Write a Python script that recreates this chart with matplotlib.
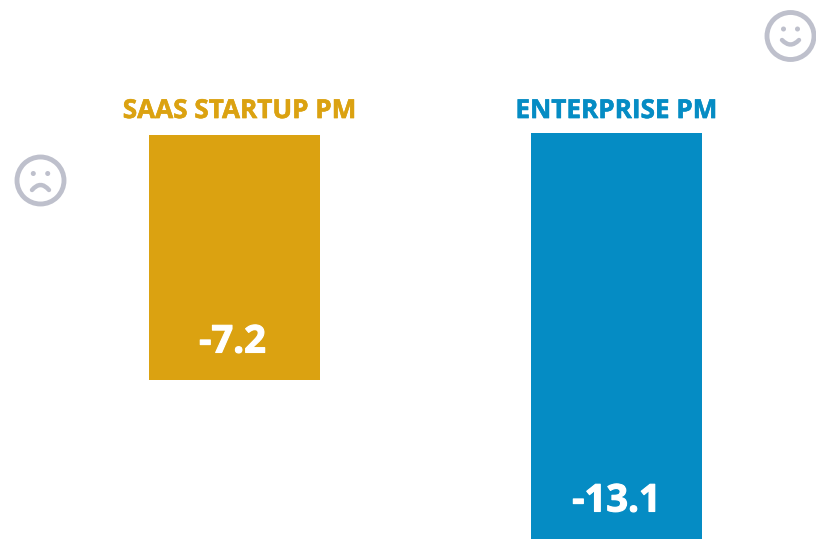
import matplotlib
matplotlib.use('Agg')
import matplotlib.pyplot as plt
import matplotlib.patheffects as pe
from matplotlib.patches import Circle, PathPatch
from matplotlib.path import Path

labels = ['SAAS STARTUP PM', 'ENTERPRISE PM']
values = [-7.2, -13.1]
bar_starts = [1.89, 1.97]
value_labels = ['-7.2', '-13.1']

GOLD = '#DBA211'
BLUE = '#058CC4'
GREY = '#BEC0CC'

plt.rcParams['font.family'] = ['Open Sans', 'DejaVu Sans']

fig = plt.figure(figsize=(8.16, 5.39), dpi=100)

# Bars hang from just above zero down to their value
ax = fig.add_axes([0, 0, 1, 1])
ax.set_xlim(0, 816)
ax.set_ylim(-13.1, 6.9)
ax.axis('off')

centers = [234.5, 616.5]
colors = [GOLD, BLUE]
heights = [v - s for v, s in zip(values, bar_starts)]
ax.bar(centers, heights, bottom=bar_starts, width=171, color=colors, linewidth=0)

# Series names go above the bars, values inside near the bottom
for x, label, color in zip([239.5, 616.5], labels, colors):
    t = ax.text(x, 2.52, label, ha='center', va='baseline', fontsize=18.8, fontweight='bold', color=color)
    t.set_path_effects([pe.withStroke(linewidth=0.4, foreground=color)])
for x, v, text in zip([232.5, 616.5], values, value_labels):
    t = ax.annotate(text, (x, v), xytext=(0, 27.5), textcoords='offset pixels',
                    ha='center', va='baseline', fontsize=27.5, fontweight='bold', color='white')
    t.set_path_effects([pe.withStroke(linewidth=0.8, foreground='white')])


# Face icons are drawn on a pixel-sized overlay
overlay = fig.add_axes([0, 0, 1, 1])
overlay.set_xlim(0, 816)
overlay.set_ylim(539, 0)
overlay.axis('off')


def draw_face(cx, cy, radius, eye_dx, eye_dy, mouth_dy, curve):
    overlay.add_patch(Circle((cx, cy), radius, fill=False, edgecolor=GREY, linewidth=3.5))
    for dx in (-eye_dx, eye_dx):
        overlay.add_patch(Circle((cx + dx, cy - eye_dy), 2.5, color=GREY, linewidth=0))
    mouth = Path([(cx - 8.5, cy + mouth_dy), (cx, cy + mouth_dy + curve), (cx + 8.5, cy + mouth_dy)],
                 [Path.MOVETO, Path.CURVE3, Path.CURVE3])
    overlay.add_patch(PathPatch(mouth, fill=False, edgecolor=GREY, linewidth=3.2, capstyle='round'))


draw_face(40.5, 180.5, 23.5, 7.2, 7, 9.5, -10)
draw_face(790.5, 36, 23.5, 7, 7, 4, 9)

fig.savefig('out.png', dpi=100)
